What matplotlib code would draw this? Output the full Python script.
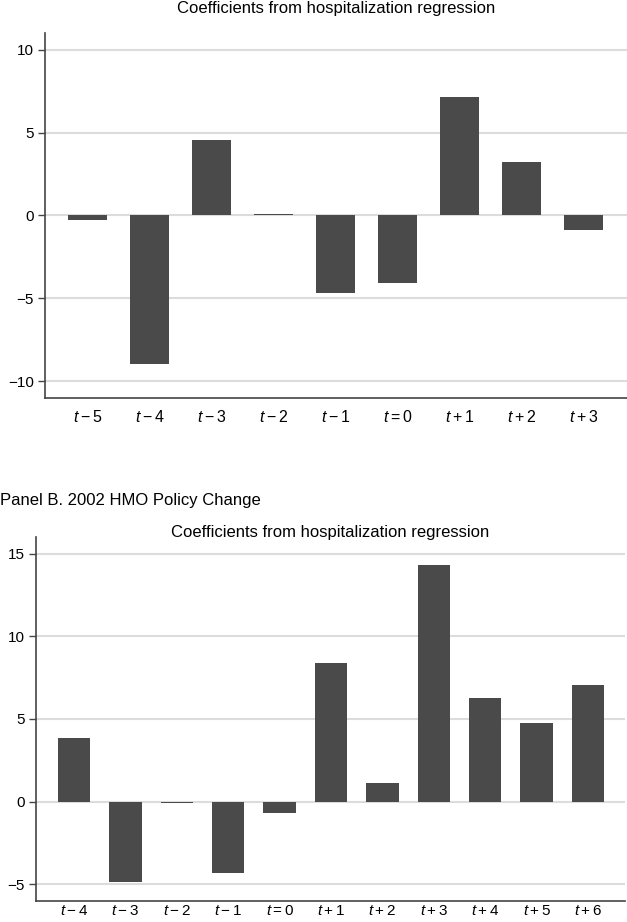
import matplotlib
matplotlib.use("Agg")
import matplotlib.pyplot as plt

plt.rcParams['font.family'] = ['Liberation Sans', 'DejaVu Sans']
plt.rcParams['mathtext.fontset'] = 'custom'
plt.rcParams['mathtext.rm'] = 'Liberation Sans'
plt.rcParams['mathtext.it'] = 'Liberation Sans:italic'
plt.rcParams['axes.unicode_minus'] = True

# Panel A
labels_a = ["$t-5$", "$t-4$", "$t-3$", "$t-2$", "$t-1$", "$t=0$", "$t+1$", "$t+2$", "$t+3$"]
values_a = [-0.26, -8.98, 4.58, 0.09, -4.70, -4.04, 7.17, 3.25, -0.88]
yticks_a = [-10, -5, 0, 5, 10]

# Panel B
labels_b = ["$t-4$", "$t-3$", "$t-2$", "$t-1$", "$t=0$", "$t+1$", "$t+2$", "$t+3$", "$t+4$", "$t+5$", "$t+6$"]
values_b = [3.86, -4.83, -0.07, -4.28, -0.66, 8.38, 1.13, 14.30, 6.27, 4.76, 7.06]
yticks_b = [-5, 0, 5, 10, 15]

title = "Coefficients from hospitalization regression"
panel_b_label = "Panel B. 2002 HMO Policy Change"

W, H = 627, 922
fig = plt.figure(figsize=(W / 100, H / 100), dpi=100)

BAR = "#4a4a4a"
GRID = "#dcdcdc"
SPINE = "#444444"


def make_panel(rect, labels, values, yticks, ylim, xpad, xfs):
    ax = fig.add_axes(rect)
    x = list(range(len(labels)))
    ax.bar(x, values, width=0.63, color=BAR, zorder=3)
    ax.set_xlim(-xpad[0], len(labels) - 1 + xpad[1])
    ax.set_ylim(*ylim)
    ax.set_yticks(yticks)
    ax.set_yticklabels([str(v).replace("-", "\u2212") for v in yticks], fontsize=11)
    ax.set_xticks(x)
    ax.set_xticklabels(labels, fontsize=xfs)
    ax.tick_params(axis='x', length=0, pad=8)
    ax.tick_params(axis='y', length=5, width=1, color=SPINE, pad=3)
    ax.grid(axis='y', color=GRID, linewidth=1.5, zorder=0)
    ax.set_axisbelow(True)
    for s in ['top', 'right']:
        ax.spines[s].set_visible(False)
    for s in ['left', 'bottom']:
        ax.spines[s].set_color(SPINE)
        ax.spines[s].set_linewidth(1.2)
    return ax


# Panel A axes: left 45px, right 627px, top 33px, bottom 398px
axA = make_panel([45 / W, 1 - 398 / H, (627 - 45) / W, (398 - 33) / H],
                 labels_a, values_a, yticks_a, (-11, 11), (0.69, 0.70), 11.5)
fig.text((45 + 627) / 2 / W, 1 - 9 / H, title, ha='center', va='center', fontsize=12)

# Panel B axes: left 36px, right 625px, top 537px, bottom 901px
axB = make_panel([36 / W, 1 - 901 / H, (625 - 36) / W, (901 - 537) / H],
                 labels_b, values_b, yticks_b, (-6, 16), (0.74, 0.72), 11)
axB.tick_params(axis='x', pad=2)
fig.text(0, 1 - 500 / H, panel_b_label, ha='left', va='center', fontsize=12)
fig.text((36 + 625) / 2 / W, 1 - 532 / H, title, ha='center', va='center', fontsize=12)

fig.savefig("out.png", dpi=100)
